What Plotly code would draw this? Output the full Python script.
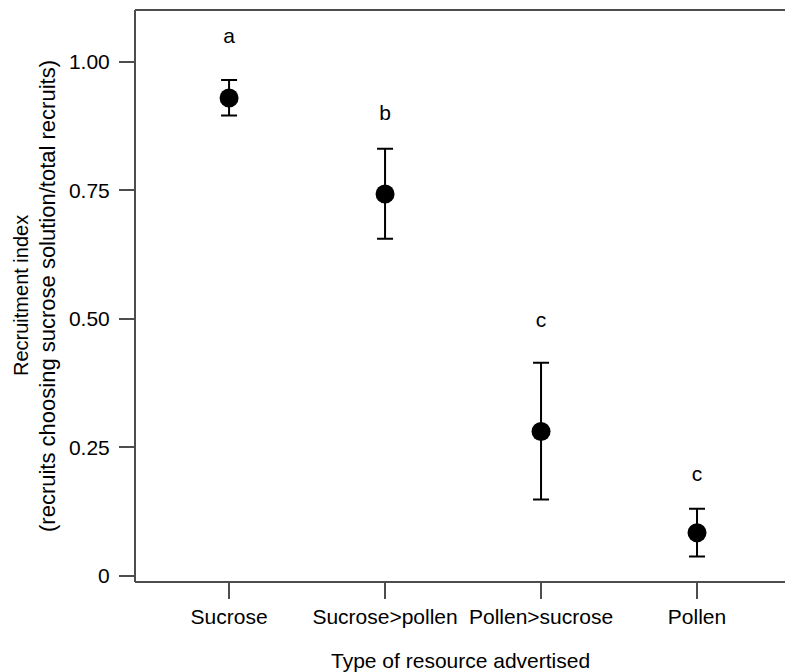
import plotly.graph_objects as go

categories = ["Sucrose", "Sucrose>pollen", "Pollen>sucrose", "Pollen"]
x_pos = [1, 2, 3, 4]
means = [0.930, 0.743, 0.281, 0.084]
upper = [0.965, 0.831, 0.415, 0.131]
lower = [0.896, 0.656, 0.149, 0.038]
letters = ["a", "b", "c", "c"]
letter_y = [1.047, 0.897, 0.495, 0.195]
y_ticks = [0, 0.25, 0.5, 0.75, 1.0]
y_tick_labels = ["0", "0.25", "0.50", "0.75", "1.00"]

err_plus = [u - m for u, m in zip(upper, means)]
err_minus = [m - l for m, l in zip(means, lower)]

FONT = "Liberation Sans, Arial, sans-serif"
AX = "#4d4d4d"

fig = go.Figure()
fig.add_trace(go.Scatter(
    x=x_pos, y=means, mode="markers",
    marker=dict(size=19, color="black"),
    error_y=dict(type="data", symmetric=False, array=err_plus, arrayminus=err_minus,
                 color="black", thickness=2, width=8),
    showlegend=False, cliponaxis=False,
))
fig.add_trace(go.Scatter(
    x=x_pos, y=letter_y, mode="text", text=letters,
    textfont=dict(size=21, color="black", family=FONT),
    showlegend=False, cliponaxis=False,
))

axis_line = dict(color=AX, width=2)
fig.update_layout(
    width=785, height=672,
    margin=dict(l=135, r=0, t=10, b=90),
    plot_bgcolor="white", paper_bgcolor="white",
    font=dict(family=FONT, size=21, color="black"),
    xaxis=dict(range=[0.397, 4.564], tickvals=x_pos, ticktext=categories,
               showgrid=False, zeroline=False, showline=False,
               ticks="outside", ticklen=16, tickwidth=2, tickcolor=AX,
               tickfont=dict(size=21, color="black"), fixedrange=True),
    yaxis=dict(range=[-0.0117, 1.101], tickvals=y_ticks, ticktext=y_tick_labels,
               showgrid=False, zeroline=False, showline=False,
               ticks="outside", ticklen=15, tickwidth=2, tickcolor=AX,
               ticklabelstandoff=5,
               tickfont=dict(size=21, color="black"), fixedrange=True),
    shapes=[
        dict(type="line", xref="paper", yref="paper", x0=0, x1=0, y0=0, y1=1, line=axis_line),
        dict(type="line", xref="paper", yref="paper", x0=0, x1=1.01, y0=0, y1=0, line=axis_line),
        dict(type="line", xref="paper", yref="paper", x0=0, x1=1.01, y0=1, y1=1, line=axis_line),
    ],
    annotations=[
        dict(text="Recruitment index",
             xref="paper", yref="paper", x=0, y=0.5, xanchor="center", yanchor="middle",
             xshift=-114, textangle=-90, showarrow=False,
             font=dict(size=20, color="black", family=FONT)),
        dict(text="(recruits choosing sucrose solution/total recruits)",
             xref="paper", yref="paper", x=0, y=0.5, xanchor="center", yanchor="middle",
             xshift=-88, textangle=-90, showarrow=False,
             font=dict(size=22, color="black", family=FONT)),
        dict(text="Type of resource advertised",
             xref="paper", yref="paper", x=0.5, y=0, xanchor="center", yanchor="middle",
             yshift=-78, showarrow=False,
             font=dict(size=21, color="black", family=FONT)),
    ],
)

fig.write_html("out.html", config={"displayModeBar": False},
               post_script="document.body.style.margin='0';document.body.style.overflow='hidden';")
